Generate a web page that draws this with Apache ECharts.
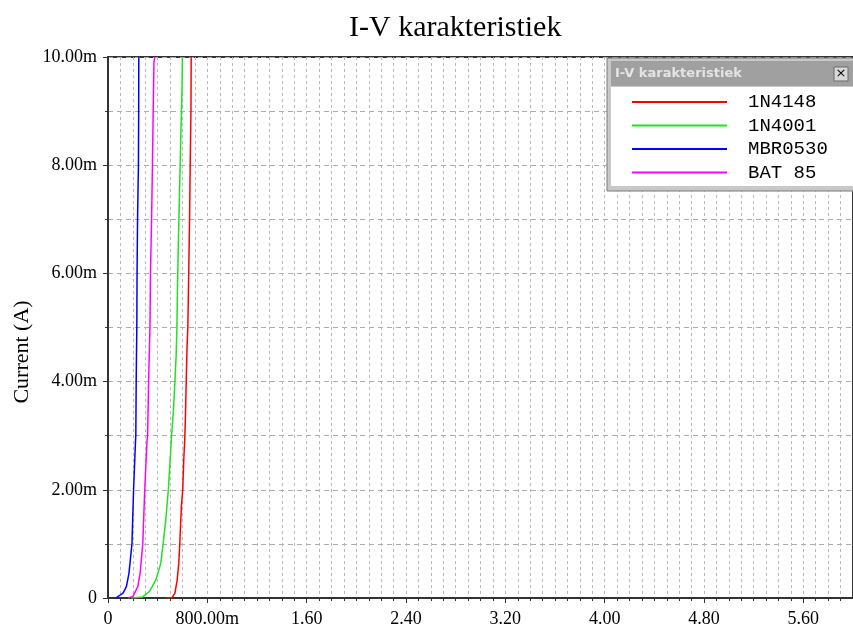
<!DOCTYPE html>
<html>
<head>
<meta charset="utf-8">
<title>I-V karakteristiek</title>
<script src="https://cdn.jsdelivr.net/npm/echarts@6/dist/echarts.min.js"></script>
<style>
  html, body { margin: 0; padding: 0; background: #fff; }
  #chart { width: 853px; height: 630px; }
</style>
</head>
<body>
<div id="chart"></div>
<script>
// Diode forward characteristics: voltage (V) against current (mA)
const diodeNames = ['1N4148', '1N4001', 'MBR0530', 'BAT 85'];
const diodeColors = ['#ff0000', '#22e022', '#0000ff', '#ff00ff'];

const v1N4148 = [0.465, 0.517, 0.539, 0.557, 0.570, 0.578, 0.591, 0.602, 0.610, 0.618, 0.623, 0.630, 0.636, 0.643, 0.650, 0.657, 0.662, 0.668, 0.670];
const i1N4148 = [0.00, 0.01, 0.09, 0.33, 0.64, 1.00, 1.69, 2.00, 2.55, 2.92, 3.30, 4.00, 4.60, 5.00, 6.00, 7.00, 8.00, 9.00, 10.00];

const v1N4001 = [0.188, 0.280, 0.333, 0.385, 0.425, 0.444, 0.465, 0.486, 0.499, 0.512, 0.528, 0.539, 0.549, 0.555, 0.560, 0.566, 0.573, 0.581, 0.589, 0.596, 0.599];
const i1N4001 = [0.00, 0.02, 0.12, 0.33, 0.64, 1.00, 1.44, 2.00, 2.50, 3.00, 3.50, 4.00, 4.50, 5.00, 5.80, 6.50, 7.20, 8.00, 8.80, 9.40, 10.00];

const vMBR0530 = [0.063, 0.121, 0.148, 0.169, 0.193, 0.206, 0.222, 0.224, 0.227, 0.232, 0.234, 0.238, 0.245, 0.247, 0.248];
const iMBR0530 = [0.00, 0.09, 0.21, 0.46, 1.00, 2.00, 2.92, 3.00, 4.00, 5.00, 6.00, 7.00, 8.00, 9.00, 10.00];

const vBAT85 = [0.161, 0.201, 0.240, 0.259, 0.280, 0.296, 0.314, 0.319, 0.327, 0.338, 0.342, 0.351, 0.358, 0.364, 0.370, 0.377];
const iBAT85 = [0.00, 0.03, 0.21, 0.46, 1.00, 2.00, 2.90, 3.00, 4.00, 5.00, 6.00, 7.00, 8.00, 9.00, 9.90, 10.00];

// Axis settings
const xMin = 0, xMax = 6.0, xStep = 0.8;
const yMin = 0, yMax = 10, yStep = 2;

const voltages = [v1N4148, v1N4001, vMBR0530, vBAT85];
const currents = [i1N4148, i1N4001, iMBR0530, iBAT85];

function pairs(vs, is) {
  return vs.map((v, k) => [v, is[k]]);
}

function fmtVolt(v) {
  if (Math.abs(v) < 1e-9) return '0';
  if (v < 1) return (v * 1000).toFixed(2) + 'm';
  return v.toFixed(2);
}
function fmtAmp(v) {
  if (Math.abs(v) < 1e-9) return '0';
  return v.toFixed(2) + 'm';
}

const chart = echarts.init(document.getElementById('chart'), null, { renderer: 'canvas' });

const serif = "'Liberation Serif', 'Times New Roman', serif";
const gridV = { show: true, lineStyle: { color: '#b8b8b8', width: 1, type: [3, 3] } };
const gridH = { show: true, lineStyle: { color: '#acacac', width: 1, type: [5, 4] } };

const option = {
  animation: false,
  backgroundColor: '#ffffff',
  title: {
    text: 'I-V karakteristiek',
    left: 344,
    top: 8,
    textStyle: { fontFamily: serif, fontSize: 30, fontWeight: 'normal', color: '#000' }
  },
  grid: {
    left: 108,
    top: 57,
    bottom: 32,
    right: -13,
    show: true,
    borderColor: '#333',
    borderWidth: 2,
    containLabel: false
  },
  xAxis: {
    type: 'value',
    min: xMin,
    max: xMax,
    interval: xStep,
    axisLine: { show: true, onZero: false, lineStyle: { color: '#333', width: 2 } },
    axisTick: { show: true, length: 5, lineStyle: { color: '#333', width: 1 } },
    minorTick: { show: true, splitNumber: 8, length: 3, lineStyle: { color: '#333', width: 1 } },
    splitLine: gridV,
    minorSplitLine: gridV,
    axisLabel: {
      formatter: fmtVolt,
      margin: 12,
      fontFamily: serif,
      fontSize: 18,
      color: '#000',
      showMaxLabel: false
    }
  },
  yAxis: {
    type: 'value',
    min: yMin,
    max: yMax,
    interval: yStep,
    axisLine: { show: true, onZero: false, lineStyle: { color: '#333', width: 2 } },
    axisTick: { show: true, length: 5, lineStyle: { color: '#333', width: 1 } },
    minorTick: { show: true, splitNumber: 2, length: 3, lineStyle: { color: '#333', width: 1 } },
    splitLine: gridH,
    minorSplitLine: gridH,
    axisLabel: {
      formatter: fmtAmp,
      margin: 11,
      fontFamily: serif,
      fontSize: 18,
      color: '#000'
    }
  },
  legend: {
    show: true,
    orient: 'vertical',
    left: 632,
    top: 92,
    z: 20,
    icon: 'rect',
    itemWidth: 95,
    itemHeight: 2,
    itemGap: 3.5,
    padding: 0,
    data: diodeNames,
    textStyle: {
      fontFamily: "'Liberation Mono', 'Courier New', monospace",
      fontSize: 19,
      lineHeight: 20,
      color: '#000',
      padding: [0, 0, 0, 16]
    }
  },
  graphic: [
    // legend window frame
    {
      type: 'rect', z: 5,
      shape: { x: 607, y: 58, width: 260, height: 133 },
      style: { fill: '#c8c8c8', stroke: '#7a7a7a', lineWidth: 1 }
    },
    // title bar
    {
      type: 'rect', z: 6,
      shape: { x: 611, y: 61, width: 256, height: 25 },
      style: { fill: '#a0a0a0' }
    },
    {
      type: 'text', z: 7,
      x: 615, y: 74,
      style: {
        text: 'I-V karakteristiek',
        fontFamily: "'DejaVu Sans', Verdana, sans-serif",
        fontWeight: 'bold',
        fontSize: 13,
        fill: '#e4e4e4',
        verticalAlign: 'middle'
      }
    },
    // close button
    {
      type: 'rect', z: 7,
      shape: { x: 834, y: 67, width: 14, height: 14 },
      style: { fill: '#d8d8d8', stroke: '#6a6a6a', lineWidth: 1 }
    },
    {
      type: 'text', z: 8,
      x: 841, y: 74,
      style: {
        text: '×',
        fontFamily: "'DejaVu Sans', sans-serif",
        fontSize: 13,
        fill: '#000',
        align: 'center',
        verticalAlign: 'middle'
      }
    },
    // legend body
    {
      type: 'rect', z: 6,
      shape: { x: 611, y: 87, width: 256, height: 99 },
      style: { fill: '#ffffff' }
    },
    // y-axis title
    {
      type: 'text', z: 5,
      x: 22, y: 352,
      rotation: Math.PI / 2,
      style: {
        text: 'Current (A)',
        fontFamily: serif,
        fontSize: 22,
        fill: '#000',
        align: 'center',
        verticalAlign: 'middle'
      }
    }
  ],
  series: diodeNames.map((name, k) => ({
    name: name,
    type: 'line',
    data: pairs(voltages[k], currents[k]),
    showSymbol: false,
    symbol: 'none',
    color: diodeColors[k],
    lineStyle: { color: diodeColors[k], width: 1.5 },
    z: 3
  }))
};

chart.setOption(option);
</script>
</body>
</html>
